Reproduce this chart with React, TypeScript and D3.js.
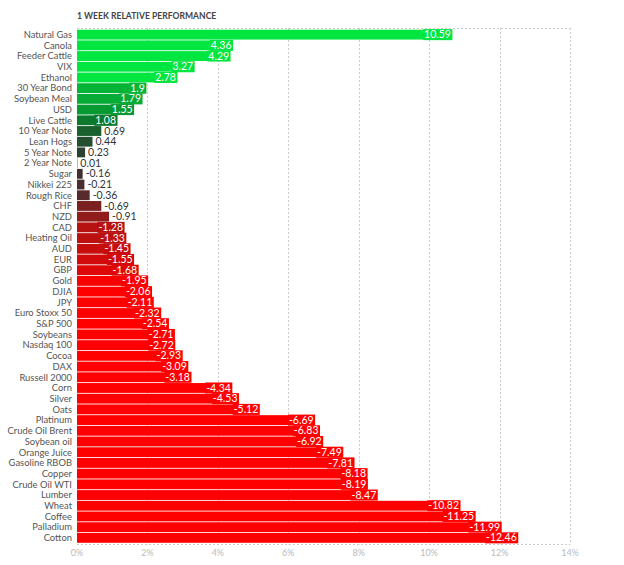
import React, { useEffect, useRef } from "react";
import * as d3 from "d3";

const categories = [
  "Natural Gas", "Canola", "Feeder Cattle", "VIX", "Ethanol", "30 Year Bond", "Soybean Meal", "USD",
  "Live Cattle", "10 Year Note", "Lean Hogs", "5 Year Note", "2 Year Note", "Sugar", "Nikkei 225",
  "Rough Rice", "CHF", "NZD", "CAD", "Heating Oil", "AUD", "EUR", "GBP", "Gold", "DJIA", "JPY",
  "Euro Stoxx 50", "S&P 500", "Soybeans", "Nasdaq 100", "Cocoa", "DAX", "Russell 2000", "Corn",
  "Silver", "Oats", "Platinum", "Crude Oil Brent", "Soybean oil", "Orange Juice", "Gasoline RBOB",
  "Copper", "Crude Oil WTI", "Lumber", "Wheat", "Coffee", "Palladium", "Cotton",
];
const values = [
  10.59, 4.36, 4.29, 3.27, 2.78, 1.9, 1.79, 1.55, 1.08, 0.69, 0.44, 0.23, 0.01, -0.16, -0.21,
  -0.36, -0.69, -0.91, -1.28, -1.33, -1.45, -1.55, -1.68, -1.95, -2.06, -2.11, -2.32, -2.54,
  -2.71, -2.72, -2.93, -3.09, -3.18, -4.34, -4.53, -5.12, -6.69, -6.83, -6.92, -7.49, -7.81,
  -8.18, -8.19, -8.47, -10.82, -11.25, -11.99, -12.46,
];
const xTicks = [0, 2, 4, 6, 8, 10, 12, 14];
const title = "1 WEEK RELATIVE PERFORMANCE";

const W = 624;
const H = 565;
const FONT = "Lato, 'Open Sans', sans-serif";

export default function App() {
  const ref = useRef<SVGSVGElement>(null);

  useEffect(() => {
    const svg = d3.select(ref.current);
    svg.selectAll("*").remove();

    const x = d3.scaleLinear().domain([0, 14]).range([77, 570]);
    const y = d3.scaleBand<string>().domain(categories).range([29.5, 543]).paddingInner(0.08).paddingOuter(0.02);
    const posColor = d3.scaleLinear<string>().domain([0, 1.1, 2.6]).range(["#333333", "#0b7a2c", "#00e640"]).clamp(true);
    const negColor = d3.scaleLinear<string>().domain([0, 2.0]).range(["#333333", "#ff0000"]).clamp(true);
    const colorOf = (v: number) => (v >= 0 ? posColor(v) : negColor(-v));

    const yTop = 28;
    const yBot = 544.5;

    svg.append("text")
      .attr("x", 77).attr("y", 19)
      .attr("font-family", FONT).attr("font-size", 8.6).attr("font-weight", 700)
      .attr("fill", "#444").text(title);

    const grid = svg.append("g").attr("stroke", "#cccccc").attr("stroke-dasharray", "2,2").attr("fill", "none");
    grid.append("line").attr("x1", x(0)).attr("x2", x(14)).attr("y1", yTop + 0.5).attr("y2", yTop + 0.5);
    grid.append("line").attr("x1", x(0)).attr("x2", x(14)).attr("y1", yBot).attr("y2", yBot);
    xTicks.filter((t) => t > 0).forEach((t) => {
      grid.append("line").attr("x1", Math.round(x(t)) + 0.5).attr("x2", Math.round(x(t)) + 0.5)
        .attr("y1", yTop).attr("y2", yBot);
    });

    svg.append("g").selectAll("text").data(xTicks).join("text")
      .attr("x", (d) => x(d)).attr("y", 555.5).attr("text-anchor", "middle")
      .attr("font-family", FONT).attr("font-size", 9).attr("fill", "#bbbbbb")
      .text((d) => `${d}%`);

    const rows = svg.append("g").selectAll("g").data(categories).join("g");

    rows.append("text")
      .attr("x", 72).attr("y", (d) => (y(d) as number) + y.bandwidth() / 2 + 3.3)
      .attr("text-anchor", "end").attr("font-family", FONT).attr("font-size", 9.4).attr("fill", "#555")
      .text((d) => d);

    rows.append("rect")
      .attr("x", x(0)).attr("y", (d) => y(d) as number)
      .attr("width", (d, i) => Math.max(0, x(Math.abs(values[i])) - x(0)))
      .attr("height", y.bandwidth())
      .attr("fill", (d, i) => colorOf(values[i]));

    rows.each(function (d, i) {
      const v = values[i];
      const g = d3.select(this);
      const end = x(Math.abs(v));
      const cy = (y(d) as number) + y.bandwidth() / 2;
      const label = String(v);
      const inside = Math.abs(v) >= 1;
      const bg = g.append("rect");
      const t = g.append("text")
        .attr("y", cy + 3.6)
        .attr("font-family", FONT).attr("font-size", 10.5)
        .text(label);
      if (inside) {
        t.attr("x", end + 1).attr("text-anchor", "end").attr("fill", "#ffffff");
        const bb = (t.node() as SVGTextElement).getBBox();
        bg.attr("x", bb.x - 1).attr("y", cy - 5.5).attr("width", bb.width + 2.5).attr("height", 11)
          .attr("fill", colorOf(v));
      } else {
        t.attr("x", end + 3).attr("text-anchor", "start").attr("fill", "#333333");
        bg.remove();
      }
    });
  }, []);

  return (
    <svg
      ref={ref}
      width={W}
      height={H}
      style={{ display: "block", position: "absolute", left: 0, top: 0 }}
    />
  );
}
